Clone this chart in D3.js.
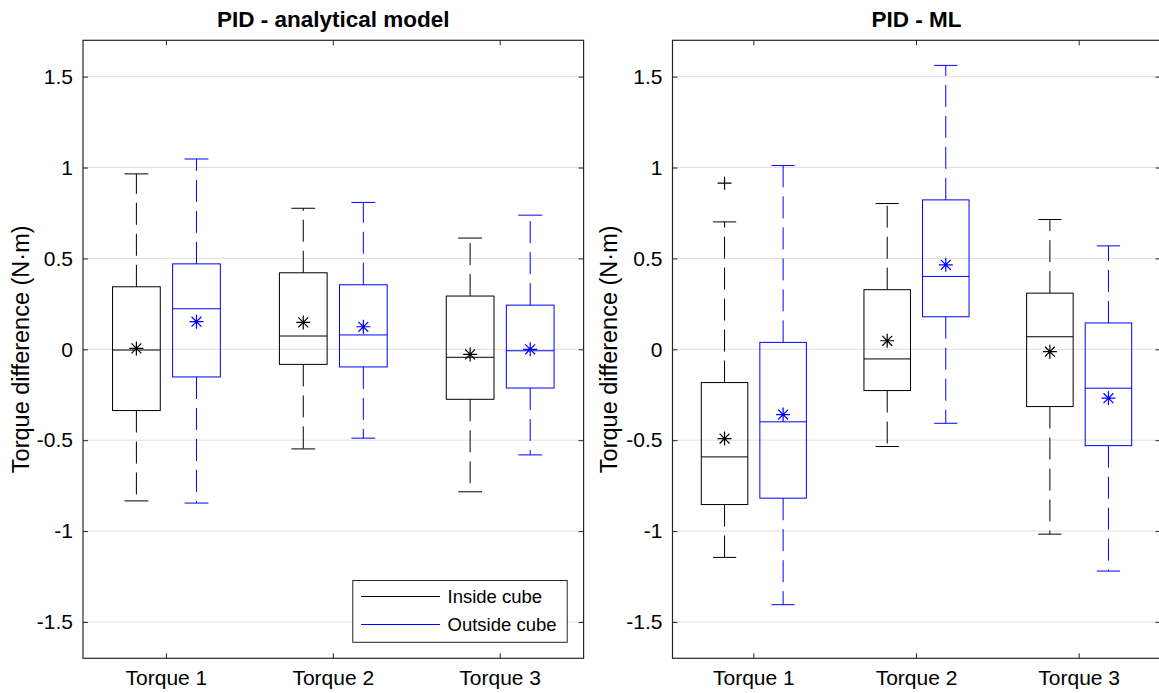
<!DOCTYPE html>
<html>
<head>
<meta charset="utf-8">
<script src="https://cdn.jsdelivr.net/npm/d3@7"></script>
<style>
  body { margin: 0; background: #fff; }
  svg { display: block; font-family: "Liberation Sans", Arial, Helvetica, sans-serif; }
</style>
</head>
<body>
<svg id="chart" width="1159" height="693"></svg>
<script>
// --- data ---
const categories = ["Torque 1", "Torque 2", "Torque 3"];
const groups = ["Inside cube", "Outside cube"];
const groupColors = ["#000000", "#0000ff"];
const panelTitles = ["PID - analytical model", "PID - ML"];
const yTicks = [-1.5, -1, -0.5, 0, 0.5, 1, 1.5];
const yLabel = "Torque difference (N·m)";

// one row per torque: [lower whisker, q1, median, q3, upper whisker, mean]
const analyticalInside = [
    [-0.834, -0.337, -0.004, 0.344, 0.965, 0.005],
    [-0.548, -0.083, 0.073, 0.421, 0.776, 0.148],
    [-0.784, -0.275, -0.044, 0.293, 0.612, -0.028]
];
const analyticalOutside = [
    [-0.846, -0.152, 0.223, 0.470, 1.047, 0.152],
    [-0.489, -0.097, 0.079, 0.355, 0.808, 0.124],
    [-0.581, -0.213, -0.008, 0.243, 0.738, 0.000]
];
const mlInside = [
    [-1.145, -0.854, -0.592, -0.183, 0.701, -0.491],
    [-0.535, -0.227, -0.053, 0.328, 0.802, 0.047],
    [-1.017, -0.315, 0.069, 0.309, 0.714, -0.013]
];
const mlOutside = [
    [-1.405, -0.819, -0.399, 0.038, 1.011, -0.359],
    [-0.407, 0.179, 0.401, 0.822, 1.562, 0.465],
    [-1.220, -0.530, -0.214, 0.145, 0.569, -0.269]
];
const noOutliers = [[], [], []];
const mlInsideOutliers = [[0.914], [], []];

// --- layout ---
const svg = d3.select("#chart");
const plotTop = 40.3, plotBottom = 658.3;
const panels = [
    { x0: 83, x1: 583.6, labelX: 29, title: panelTitles[0], sets: [analyticalInside, analyticalOutside], outliers: [noOutliers, noOutliers], legend: true },
    { x0: 672.5, x1: 1160.5, labelX: 617, title: panelTitles[1], sets: [mlInside, mlOutside], outliers: [mlInsideOutliers, noOutliers], legend: false }
];
const groupOffset = d3.scaleOrdinal(groups, [-0.18, 0.18]);
const boxFrac = 0.286;
const frameColor = "#262626";

const y = d3.scaleLinear().domain([-1.7, 1.7]).range([plotBottom, plotTop]);

function starPath(r) {
    const d = r * Math.SQRT1_2;
    return `M${-r},0L${r},0M0,${-r}L0,${r}M${-d},${-d}L${d},${d}M${-d},${d}L${d},${-d}`;
}

panels.forEach(p => {
    const x = d3.scaleBand().domain(categories).range([p.x0, p.x1]).padding(0);
    const bw = x.bandwidth();
    const g = svg.append("g");

    // grid
    g.append("g").selectAll("line")
        .data(yTicks)
        .join("line")
        .attr("x1", p.x0).attr("x2", p.x1)
        .attr("y1", d => y(d)).attr("y2", d => y(d))
        .attr("stroke", "#dfdfdf").attr("stroke-width", 1);

    // boxes
    groups.forEach((grp, gi) => {
        const color = groupColors[gi];
        const rows = p.sets[gi];
        const cx = c => x(c) + bw / 2 + groupOffset(grp) * bw;
        const half = boxFrac * bw / 2;
        const bg = g.append("g").attr("stroke", color).attr("fill", "none").attr("stroke-width", 1);
        const item = bg.selectAll("g.item")
            .data(categories.map((c, i) => ({ c, s: rows[i], out: p.outliers[gi][i] })))
            .join("g").attr("class", "item");

        // whiskers (dashed, drawn outward from the box)
        item.append("line")
            .attr("x1", d => cx(d.c)).attr("x2", d => cx(d.c))
            .attr("y1", d => y(d.s[3])).attr("y2", d => y(d.s[4]))
            .attr("stroke-dasharray", "22,9");
        item.append("line")
            .attr("x1", d => cx(d.c)).attr("x2", d => cx(d.c))
            .attr("y1", d => y(d.s[1])).attr("y2", d => y(d.s[0]))
            .attr("stroke-dasharray", "22,9");
        // caps
        [0, 4].forEach(k => {
            item.append("line")
                .attr("x1", d => cx(d.c) - half / 2).attr("x2", d => cx(d.c) + half / 2)
                .attr("y1", d => y(d.s[k])).attr("y2", d => y(d.s[k]));
        });
        // box
        item.append("rect")
            .attr("x", d => cx(d.c) - half)
            .attr("y", d => y(d.s[3]))
            .attr("width", half * 2)
            .attr("height", d => y(d.s[1]) - y(d.s[3]));
        // median
        item.append("line")
            .attr("x1", d => cx(d.c) - half).attr("x2", d => cx(d.c) + half)
            .attr("y1", d => y(d.s[2])).attr("y2", d => y(d.s[2]));
        // mean marker
        item.append("path")
            .attr("transform", d => `translate(${cx(d.c)},${y(d.s[5])})`)
            .attr("d", starPath(7))
            .attr("stroke-width", 1.2);
        // outliers
        item.selectAll("path.out")
            .data(d => d.out.map(v => ({ c: d.c, v })))
            .join("path").attr("class", "out")
            .attr("transform", d => `translate(${cx(d.c)},${y(d.v)})`)
            .attr("d", "M-7,0L7,0M0,-6.5L0,6.5")
            .attr("stroke-width", 1.2);
    });

    // axes with inward ticks
    const styleAxis = sel => {
        sel.select(".domain").remove();
        sel.selectAll(".tick line").attr("stroke", frameColor);
        sel.selectAll(".tick text").attr("fill", "#000").attr("font-size", 21)
            .attr("font-family", "Liberation Sans, Arial, sans-serif");
    };
    g.append("g").attr("transform", `translate(${p.x0},0)`)
        .call(d3.axisLeft(y).tickValues(yTicks).tickSize(-5).tickPadding(10).tickFormat(d => String(d)))
        .call(styleAxis);
    g.append("g").attr("transform", `translate(${p.x1},0)`)
        .call(d3.axisRight(y).tickValues(yTicks).tickSize(-5).tickFormat(""))
        .call(styleAxis);
    g.append("g").attr("transform", `translate(0,${plotBottom})`)
        .call(d3.axisBottom(x).tickSize(-5).tickPadding(12))
        .call(styleAxis);
    g.append("g").attr("transform", `translate(0,${plotTop})`)
        .call(d3.axisTop(x).tickSize(-5).tickFormat(""))
        .call(styleAxis);

    // frame
    g.append("rect")
        .attr("x", p.x0).attr("y", plotTop)
        .attr("width", p.x1 - p.x0).attr("height", plotBottom - plotTop)
        .attr("fill", "none").attr("stroke", frameColor).attr("stroke-width", 1.2);

    // title
    g.append("text")
        .attr("x", (p.x0 + p.x1) / 2).attr("y", 26.5)
        .attr("text-anchor", "middle")
        .attr("font-size", 22.5).attr("font-weight", "bold")
        .text(p.title);

    // y label
    g.append("text")
        .attr("transform", `translate(${p.labelX},${(plotTop + plotBottom) / 2}) rotate(-90)`)
        .attr("text-anchor", "middle")
        .attr("font-size", 23.5)
        .text(yLabel);

    // legend
    if (p.legend) {
        const lg = g.append("g");
        lg.append("rect")
            .attr("x", 352.8).attr("y", 580.5)
            .attr("width", 214.4).attr("height", 61.8)
            .attr("fill", "#fff").attr("stroke", frameColor).attr("stroke-width", 1);
        groups.forEach((grp, gi) => {
            const ly = 596.5 + gi * 28;
            lg.append("line")
                .attr("x1", 361).attr("x2", 440)
                .attr("y1", ly).attr("y2", ly)
                .attr("stroke", groupColors[gi]).attr("stroke-width", 1);
            lg.append("text")
                .attr("x", 447.5).attr("y", ly + 6.5)
                .attr("font-size", 18.5)
                .text(grp);
        });
    }
});
</script>
</body>
</html>
